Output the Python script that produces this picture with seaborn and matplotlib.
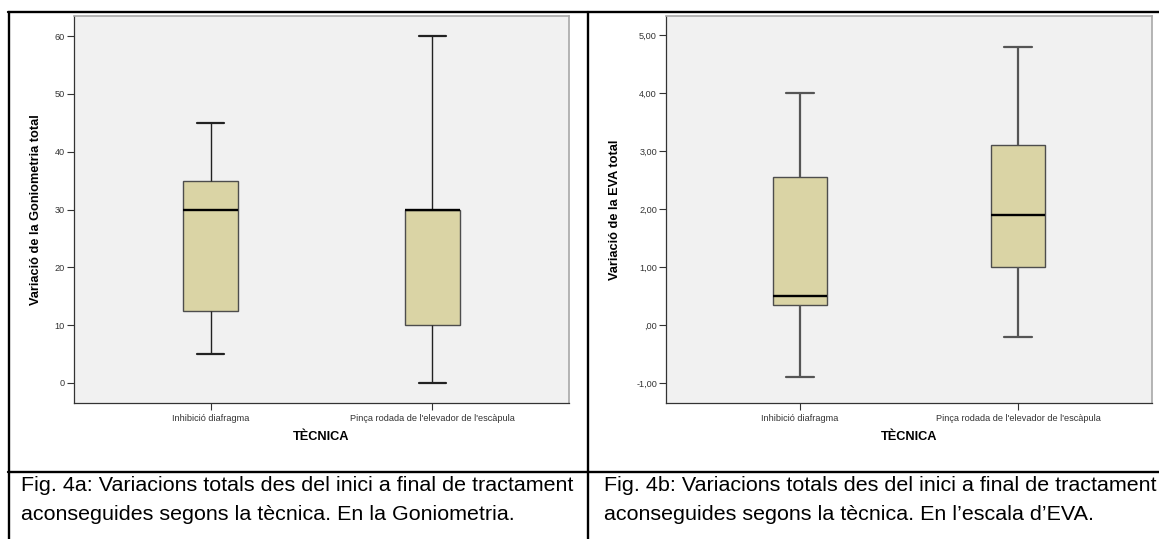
import numpy as np
import pandas as pd
import matplotlib
matplotlib.use("Agg")
import matplotlib.pyplot as plt
import seaborn as sns
from matplotlib.lines import Line2D

# ---------------- data ----------------
categories = ["Inhibició diafragma", "Pinça rodada de l'elevador de l'escàpula"]

# five-number summaries: whisker low, Q1, median, Q3, whisker high
gonio_inhibicio = [5, 12.5, 30, 35, 45]
gonio_pinca = [0, 10, 30, 30, 60]
eva_inhibicio = [-0.9, 0.35, 0.5, 2.55, 4.0]
eva_pinca = [-0.2, 1.0, 1.9, 3.1, 4.8]

gonio_ticks = [0, 10, 20, 30, 40, 50, 60]
gonio_ticklabels = ["0", "10", "20", "30", "40", "50", "60"]
eva_ticks = [-1, 0, 1, 2, 3, 4, 5]
eva_ticklabels = ["-1,00", ",00", "1,00", "2,00", "3,00", "4,00", "5,00"]

xlabel = "TÈCNICA"
ylabel_a = "Variació de la Goniometria total"
ylabel_b = "Variació de la EVA total"
caption_a = ["Fig. 4a: Variacions totals des del inici a final de tractament",
             "aconseguides segons la tècnica. En la Goniometria."]
caption_b = ["Fig. 4b: Variacions totals des del inici a final de tractament",
             "aconseguides segons la tècnica. En l\u2019escala d\u2019EVA."]

# ---------------- styling ----------------
sns.set_style("white")
plt.rcParams["font.family"] = ["Liberation Sans", "DejaVu Sans"]

W, H = 1159, 539
fig = plt.figure(figsize=(W / 100, H / 100), dpi=100)
fig.patch.set_facecolor("white")

BOX = "#DAD4A5"
BG = "#F1F1F1"


def px_rect(l, r, t, b):
    return [l / W, (H - b) / H, (r - l) / W, (b - t) / H]


def make_df(a, b):
    return pd.DataFrame({
        "tecnica": [categories[0]] * len(a) + [categories[1]] * len(b),
        "valor": list(a) + list(b),
    })


def draw(ax, df, ticks, ticklabels, ylim, ylabel, ylab_x, wlw, wcol):
    sns.boxplot(data=df, x="tecnica", y="valor", order=categories, ax=ax,
                width=0.25, whis=(0, 100), color=BOX, saturation=1,
                linecolor="#4d4d4d", linewidth=1.0,
                medianprops={"color": "black", "linewidth": 1.7},
                whiskerprops={"color": wcol, "linewidth": wlw},
                capprops={"color": wcol, "linewidth": 1.6},
                showfliers=False)
    ax.set_facecolor(BG)
    ax.set_xlim(-0.615, 1.615)
    ax.set_ylim(*ylim)
    ax.set_yticks(ticks)
    ax.set_yticklabels(ticklabels)
    ax.tick_params(axis="both", which="major", direction="out", length=5,
                   width=0.8, color="#333333", labelcolor="#333333",
                   pad=1.5, left=True, bottom=True)
    ax.tick_params(axis="y", labelsize=6.6)
    ax.tick_params(axis="x", labelsize=6.6, pad=3)
    for s in ["left", "bottom"]:
        ax.spines[s].set_color("#333333")
        ax.spines[s].set_linewidth(0.9)
    for s in ["top", "right"]:
        ax.spines[s].set_color("#A8A8A8")
        ax.spines[s].set_linewidth(1.2)
    ax.set_ylabel(ylabel, fontsize=9.2, fontweight="bold", color="black")
    ax.yaxis.set_label_coords(ylab_x, 0.5)
    ax.set_xlabel(xlabel, fontsize=9.2, fontweight="bold", color="black")
    ax.xaxis.set_label_coords(0.5, -0.072)


ax1 = fig.add_axes(px_rect(74, 569, 16, 403))
draw(ax1, make_df(gonio_inhibicio, gonio_pinca), gonio_ticks, gonio_ticklabels,
     (-3.5, 63.5), ylabel_a, (42 - 74) / 495, 1.0, "#222222")

ax2 = fig.add_axes(px_rect(666, 1152, 16, 403))
draw(ax2, make_df(eva_inhibicio, eva_pinca), eva_ticks, eva_ticklabels,
     (-1.34, 5.33), ylabel_b, (621 - 666) / 486, 1.6, "#555555")

# ---------------- table frame ----------------
def fx(x):
    return x / W


def fy(y):
    return (H - y) / H


lw = 1.7
fig.add_artist(Line2D([fx(8), 1.0], [fy(12), fy(12)], color="black", lw=lw))
fig.add_artist(Line2D([fx(8), 1.0], [fy(472), fy(472)], color="black", lw=lw))
fig.add_artist(Line2D([fx(9), fx(9)], [fy(12), 0], color="black", lw=lw))
fig.add_artist(Line2D([fx(588), fx(588)], [fy(12), 0], color="black", lw=lw))

# ---------------- captions ----------------
for x0, lines in [(21, caption_a), (604, caption_b)]:
    fig.text(fx(x0), fy(491), lines[0], fontsize=15.45, color="black",
             ha="left", va="baseline")
    fig.text(fx(x0), fy(520), lines[1], fontsize=15.45, color="black",
             ha="left", va="baseline")

fig.savefig("out.png", dpi=100, facecolor="white")
